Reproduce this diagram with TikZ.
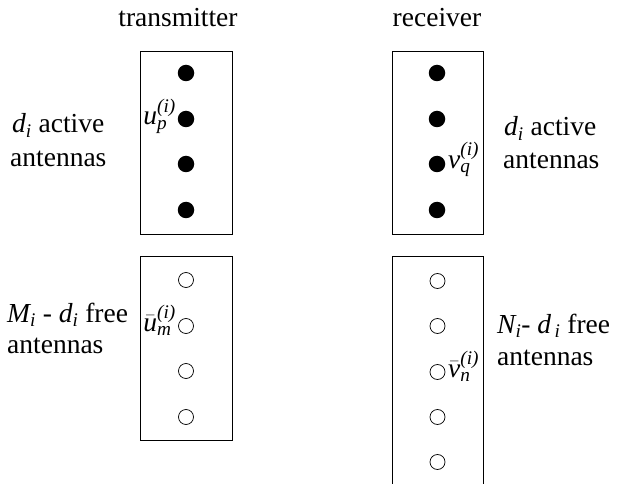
\documentclass[tikz,border=0pt]{standalone}
\usepackage{amsmath}
\usepackage{fontspec}
\setmainfont{Liberation Serif}
\tikzset{
  fulldot/.style={circle,fill=black,draw=none,minimum size=16.5pt,inner sep=0pt},
  opendot/.style={circle,draw=black,line width=0.7pt,fill=white,minimum size=15pt,inner sep=0pt},
  panel/.style={draw=black,line width=0.8pt},
  lbl/.style={inner sep=0pt,font=\fontsize{27.5}{33}\selectfont,align=left},
  sym/.style={inner sep=0pt,font=\fontsize{27.5}{33}\selectfont}
}
\begin{document}
\begin{tikzpicture}[x=1pt,y=-1pt]
\useasboundingbox (0,0) rectangle (635,484);
% panels
\draw[panel] (140,51) rectangle (232,234);
\draw[panel] (392,51) rectangle (483,234);
\draw[panel] (140,256) rectangle (232,440);
\draw[panel] (392,484) -- (392,256) -- (483,256) -- (483,484);
% titles
\node[sym,anchor=base] (tx) at (178,27) {transmitter};
\node[sym,anchor=base] (rx) at (437,27) {receiver};
% active antennas
\foreach \i/\y in {1/73,2/119,3/164,4/210}{
  \node[fulldot] (ta\i) at (186,\y) {};
  \node[fulldot] (ra\i) at (437,\y) {};
}
% free antennas
\foreach \i/\y in {1/280,2/326,3/371,4/417}{
  \node[opendot] (tf\i) at (186,\y) {};
}
\foreach \i/\y in {1/281,2/326,3/372,4/417,5/462}{
  \node[opendot] (rf\i) at (437.5,\y) {};
}
% symbols
\node[sym,anchor=base east] (up) at (176,125) {$\textit{u}^{\textit{(i)}}_{\textit{p}}$};
\node[sym,anchor=base west] (vq) at (448,168) {$\textit{v}^{\textit{(i)}}_{\textit{q}}$};
\node[sym,anchor=base east] (um) at (176,331) {$\bar{\textit{u}}^{\textit{(i)}}_{\textit{m}}$};
\node[sym,anchor=base west] (vn) at (448,377) {$\bar{\textit{v}}^{\textit{(i)}}_{\textit{n}}$};
% side labels
\node[lbl,anchor=base west] (la) at (12,133) {$\textit{d}_{\textit{i}}$ active};
\node[lbl,anchor=base west] (la2) at (10,167) {antennas};
\node[lbl,anchor=base west] (ra) at (504,136) {$\textit{d}_{\textit{i}}$ active};
\node[lbl,anchor=base west] (ra2) at (503,168) {antennas};
\node[lbl,anchor=base west] (lf) at (7,322) {$\textit{M}_{\textit{i}}$ - $\textit{d}_{\textit{i}}$ free};
\node[lbl,anchor=base west] (lf2) at (7,353) {antennas};
\node[lbl,anchor=base west] (rfl) at (497,333) {$\textit{N}_{\textit{i}}$- $\textit{d}_{\,\textit{i}}$ free};
\node[lbl,anchor=base west] (rfl2) at (497,365) {antennas};
\end{tikzpicture}
\end{document}
